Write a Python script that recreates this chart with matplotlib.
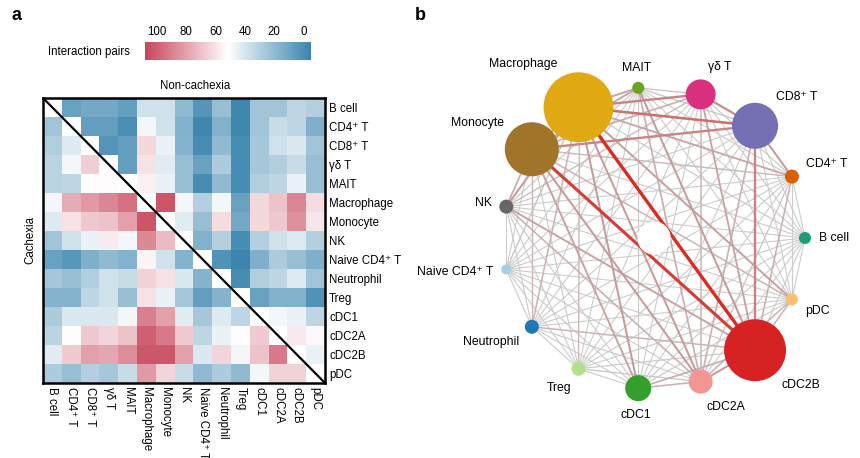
import numpy as np
import matplotlib.pyplot as plt
from matplotlib.colors import LinearSegmentedColormap
from matplotlib.patches import Circle

plt.rcParams['font.family'] = ['Liberation Sans', 'DejaVu Sans']

cells = ['B cell', 'CD4⁺ T', 'CD8⁺ T', 'γδ T', 'MAIT', 'Macrophage', 'Monocyte', 'NK',
         'Naive CD4⁺ T', 'Neutrophil', 'Treg', 'cDC1', 'cDC2A', 'cDC2B', 'pDC']

# interaction pairs: upper triangle = non-cachexia, lower triangle = cachexia
nan = np.nan
pairs = np.array([
    [nan, 9, 12, 12, 7, 38, 38, 20, 3, 22, -3, 25, 25, 33, 30],
    [25, nan, 7, 7, 0, 48, 38, 16, -3, 16, -3, 25, 36, 33, 15],
    [29, 42, nan, 3, 7, 63, 46, 17, -1, 20, -1, 26, 38, 41, 25],
    [32, 48, 66, nan, 7, 60, 43, 22, 9, 28, -1, 26, 29, 36, 22],
    [32, 33, 52, 52, nan, 56, 46, 22, -1, 20, -1, 29, 33, 46, 22],
    [48, 77, 82, 88, 94, nan, 103, 48, 30, 48, 9, 63, 70, 88, 62],
    [42, 60, 68, 70, 80, 103, nan, 43, 22, 62, 12, 63, 68, 85, 59],
    [25, 38, 46, 57, 48, 87, 72, nan, 16, 30, -1, 30, 38, 42, 30],
    [9, 4, 15, 20, 17, 55, 38, 17, nan, 2, -4, 15, 28, 22, 15],
    [26, 22, 29, 38, 36, 65, 60, 41, 17, nan, -1, 29, 33, 42, 25],
    [17, 17, 33, 38, 22, 60, 46, 26, 7, 17, nan, 9, 16, 16, 2],
    [28, 41, 41, 41, 48, 90, 80, 43, 26, 42, 33, nan, 48, 46, 33],
    [32, 52, 68, 64, 70, 100, 92, 67, 33, 46, 52, 67, nan, 58, 53],
    [43, 67, 80, 78, 86, 102, 102, 80, 41, 64, 48, 70, 92, nan, 46],
    [28, 22, 30, 26, 36, 82, 64, 36, 20, 28, 20, 48, 65, 65, nan],
])

# network (panel b)
node_value = [3.6, 4.9, 53, 22.5, 3.6, 122, 73, 4.9, 2.5, 4.9, 4.9, 17, 14.4, 96, 3.6]
node_colors = ['#1b9e77', '#d95f02', '#7570b3', '#d9307f', '#66a61e', '#e0a812', '#a0752a',
               '#666666', '#a6cee3', '#1f78b4', '#b2df8a', '#33a02c', '#f29593', '#d62222', '#fdbf6f']
strong_edges = [('Macrophage', 'cDC2B', 1.0), ('Monocyte', 'cDC2B', 0.9),
                ('Macrophage', 'CD8⁺ T', 0.65), ('Monocyte', 'CD8⁺ T', 0.55),
                ('Macrophage', 'γδ T', 0.55), ('γδ T', 'CD8⁺ T', 0.5),
                ('CD8⁺ T', 'cDC2B', 0.55), ('Macrophage', 'MAIT', 0.35),
                ('CD8⁺ T', 'CD4⁺ T', 0.4)]

fig = plt.figure(figsize=(8.6, 4.58), dpi=100)

# ---- panel a: heatmap ----
cmap = LinearSegmentedColormap.from_list('ip', ['#3a84ae', '#ffffff', '#c8455a'])
cmap.set_bad('white')
ax = fig.add_axes([43/860, 1-383/458, 282/860, 285/458])
im = ax.imshow(pairs, cmap=cmap, vmin=-5, vmax=108, aspect='auto')
n = len(cells)
ax.plot([-0.5, n-0.5], [-0.5, n-0.5], color='black', lw=1.6)
ax.set_xlim(-0.5, n-0.5)
ax.set_ylim(n-0.5, -0.5)
for s in ax.spines.values():
    s.set_linewidth(1.8)
ax.yaxis.tick_right()
ax.set_yticks(range(n))
ax.set_yticklabels(cells, fontsize=8.3)
ax.set_xticks(range(n))
ax.set_xticklabels(cells, fontsize=8.3, rotation=270, va='top', ha='center')
ax.tick_params(length=0, pad=3)
ax.text(0.54, 1.02, 'Non-cachexia', transform=ax.transAxes, ha='center', va='bottom', fontsize=8.3)
fig.text(30/860, 1-240/458, 'Cachexia', rotation=90, ha='center', va='center', fontsize=8.3)

cax = fig.add_axes([145/860, 1-60/458, 166/860, 18/458])
cb = fig.colorbar(im, cax=cax, orientation='horizontal', ticks=[0, 20, 40, 60, 80, 100])
cax.invert_xaxis()
cax.xaxis.set_ticks_position('top')
cax.tick_params(length=0, labelsize=8.3, pad=3)
cb.outline.set_visible(False)
fig.text(130/860, 1-52/458, 'Interaction pairs', ha='right', va='center', fontsize=8.3)

fig.text(11/860, 1-15/458, 'a', fontsize=13, fontweight='bold', va='center')
fig.text(415/860, 1-15/458, 'b', fontsize=13, fontweight='bold', va='center')

# ---- panel b: network ----
scale = 151.0
cx, cy = 654, 238
axb = fig.add_axes([430/860, 0, 430/860, 1])
axb.set_xlim((430-cx)/scale, (860-cx)/scale)
axb.set_ylim((cy-458)/scale, (cy-0)/scale)
axb.axis('off')

ang = np.deg2rad(np.arange(n) * 360.0 / n)
px = np.cos(ang)
py = np.sin(ang)
idx = {c: i for i, c in enumerate(cells)}

level = np.zeros((n, n))
for i in range(n):
    for j in range(i):
        level[i, j] = np.clip((pairs[i, j] - 45) / 100.0, 0, 0.4)
        level[j, i] = level[i, j]
for a, b, w in strong_edges:
    level[idx[a], idx[b]] = w
    level[idx[b], idx[a]] = w

ecmap = LinearSegmentedColormap.from_list('e', ['#cccccc', '#c68e8e', '#d92b20'])
order = sorted([(level[i, j], i, j) for i in range(n) for j in range(i+1, n)])
for w, i, j in order:
    axb.plot([px[i], px[j]], [py[i], py[j]], color=ecmap(w), lw=0.8 + 1.6*w,
             solid_capstyle='round', zorder=1 + w)

axb.add_patch(Circle((0, 0), 16/scale, color='white', zorder=3))

for i in range(n):
    r = np.sqrt(10*node_value[i]) / scale
    axb.add_patch(Circle((px[i], py[i]), r, color=node_colors[i], zorder=4, lw=0))
    c, s = np.cos(ang[i]), np.sin(ang[i])
    d = r + 8/scale
    ha = 'left' if c > 0.3 else ('right' if c < -0.3 else 'center')
    va = 'bottom' if s > 0.3 else ('top' if s < -0.3 else 'center')
    axb.text(px[i] + d*c, py[i] + d*s, cells[i], ha=ha, va=va, fontsize=8.8, zorder=5)

fig.savefig('out.png', dpi=100)
